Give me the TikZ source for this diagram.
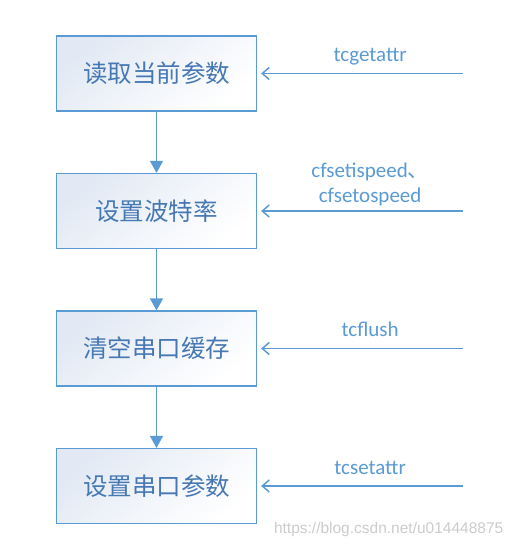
\documentclass[tikz,border=0pt]{standalone}
\usepackage{fontspec}
\setmainfont{Carlito}
\newfontfamily\cjk{Noto Sans CJK SC}
\newfontfamily\markfont{Liberation Sans}
\usetikzlibrary{positioning,arrows.meta}
\definecolor{lineblue}{RGB}{91,155,213}
\definecolor{textblue}{RGB}{70,120,180}
\definecolor{boxtint}{RGB}{226,233,244}
\begin{document}
\begin{tikzpicture}[thick,node distance=61.3pt,
	step box/.style={rectangle,draw=lineblue,line width=1.2pt,minimum width=200pt,minimum height=75pt,
		top color=boxtint,bottom color=white,shading angle=40,
		text=textblue,font=\cjk\fontsize{24.5}{28}\selectfont},
	down arrow/.style={draw=lineblue,line width=1.5pt,-{Triangle[length=12pt,width=13pt]}},
	call arrow/.style={draw=lineblue,line width=1.5pt,-{Straight Barb[length=7pt,width=12pt]},shorten >=4pt},
	call label/.style={text=lineblue,font=\fontsize{21}{25}\selectfont,align=center,inner sep=3pt,text depth=0pt}]

	\useasboundingbox[fill=white] (0,0) rectangle (516pt,-548pt);

	\node[step box] (read) at (156.5pt,-73.5pt) {读取当前参数};
	\node[step box] (baud) [below=of read] {设置波特率};
	\node[step box] (flush) [below=of baud] {清空串口缓存};
	\node[step box] (set) [below=of flush] {设置串口参数};

	\coordinate[right=205.5pt of read] (getattr);
	\coordinate[right=205.5pt of baud] (speed);
	\coordinate[right=205.5pt of flush] (tcfl);
	\coordinate[right=205.5pt of set] (setattr);

	\path
		(read) edge[down arrow] (baud)
		(baud) edge[down arrow] (flush)
		(flush) edge[down arrow] (set);

	\path
		(getattr) edge[call arrow] node[call label,above,pos=0.45,yshift=8pt] {tcgetattr} (read)
		(speed) edge[call arrow] node[call label,above,pos=0.45,yshift=5pt] {cfsetispeed{\cjk 、}\\cfsetospeed} (baud)
		(tcfl) edge[call arrow] node[call label,above,pos=0.45,yshift=8pt] {tcflush} (flush)
		(setattr) edge[call arrow] node[call label,above,pos=0.45,yshift=8pt] {tcsetattr} (set);

	\node[text=black!20,font=\markfont\fontsize{15.5}{18}\selectfont,anchor=east] (mark) at (507pt,-529pt) {https://blog.csdn.net/u014448875};
\end{tikzpicture}
\end{document}
